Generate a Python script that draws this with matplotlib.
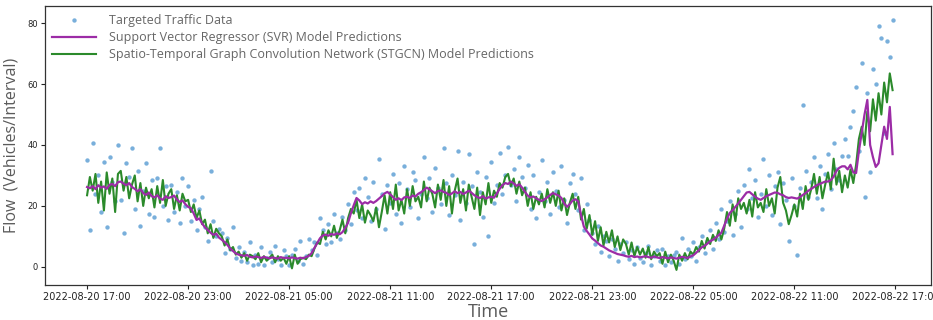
import matplotlib
matplotlib.use('Agg')
import matplotlib.pyplot as plt
import matplotlib.dates as mdates
import pandas as pd

# 10-minute intervals starting 2022-08-20 17:00
start_time = '2022-08-20 17:00'

svr = [
    26.2, 25.8, 26.5, 25.5, 26.8, 26.0,
    26.4, 25.6, 26.9, 27.2, 26.5, 27.8,
    28.0, 27.3, 26.8, 27.5, 26.2, 25.6,
    24.8, 25.5, 24.2, 23.6, 24.4, 23.2,
    22.8, 23.5, 22.4, 22.0, 23.2, 22.6,
    22.9, 23.4, 22.1, 21.3, 21.8, 20.6,
    19.7, 19.2, 17.5, 15.4, 15.9, 14.2,
    13.0, 12.1, 11.2, 10.5, 10.9, 9.6,
    8.9, 8.1, 7.2, 6.0, 5.2, 4.4,
    4.0, 3.8, 3.6, 3.9, 3.3, 3.1,
    3.4, 3.2, 2.9, 3.3, 3.0, 2.8,
    3.1, 2.9, 2.7, 3.2, 2.9, 3.0,
    2.8, 3.1, 2.9, 2.7, 3.0, 2.8,
    3.2, 3.6, 4.5, 6.2, 7.8, 9.4,
    10.3, 10.6, 10.2, 10.8, 10.5, 11.0,
    10.7, 11.4, 12.8, 14.5, 17.6, 20.2,
    22.6, 21.8, 20.6, 21.2, 20.8, 21.5,
    21.0, 21.6, 22.4, 23.2, 24.1, 24.6,
    23.8, 22.9, 22.0, 22.5, 21.9, 22.8,
    23.0, 22.6, 23.4, 23.1, 24.0, 24.5,
    25.2, 26.0, 25.4, 24.8, 24.2, 24.9,
    25.1, 24.6, 24.3, 23.6, 24.1, 24.8,
    24.2, 24.6, 23.9, 24.4, 25.0, 24.3,
    23.5, 22.9, 22.6, 23.2, 22.4, 22.8,
    23.0, 22.7, 24.1, 25.6, 26.8, 27.5,
    27.2, 28.0, 27.4, 26.6, 27.1, 26.0,
    24.6, 23.4, 22.8, 23.1, 22.5, 22.0,
    21.6, 22.2, 22.8, 23.6, 24.2, 23.8,
    23.4, 22.6, 20.8, 19.7, 20.6, 21.8,
    22.2, 21.5, 17.0, 13.2, 11.8, 10.6,
    9.3, 8.6, 7.8, 7.0, 6.6, 6.0,
    5.4, 5.0, 4.6, 4.2, 4.0, 3.8,
    3.5, 3.3, 3.6, 3.2, 3.4, 3.1,
    3.3, 3.5, 3.2, 3.0, 3.4, 3.1,
    2.9, 3.2, 3.0, 2.8, 3.1, 2.9,
    2.7, 3.0, 3.3, 3.1, 2.9, 3.4,
    3.8, 4.6, 5.5, 6.4, 6.9, 7.6,
    8.4, 8.9, 9.6, 10.4, 11.2, 13.5,
    15.8, 17.7, 18.6, 19.7, 20.8, 22.0,
    23.2, 24.4, 24.6, 23.8, 23.0, 22.4,
    22.0, 22.6, 23.2, 23.6, 24.0, 24.4,
    24.3, 23.8, 23.5, 22.9, 22.6, 22.8,
    22.6, 22.4, 22.9, 23.6, 24.2, 25.0,
    25.6, 26.2, 26.8, 27.2, 27.6, 28.0,
    28.0, 28.5, 29.6, 31.5, 32.5, 33.0,
    33.0, 32.0, 33.5, 31.0, 30.8, 38.0,
    44.0, 50.0, 54.8, 40.0, 36.0, 32.8,
    34.0, 40.0, 46.0, 42.0, 52.5, 37.0,
]

stgcn = [
    23.5, 29.5, 25.0, 30.5, 21.0, 28.0,
    18.5, 31.0, 24.0, 29.0, 18.0, 30.5,
    31.5, 25.0, 29.5, 22.5, 27.0, 30.0,
    21.5, 27.5, 20.0, 26.0, 22.5, 25.5,
    19.5, 26.5, 21.0, 28.5, 20.0, 24.0,
    25.5, 19.0, 23.5, 18.5, 24.0, 21.5,
    22.0, 18.0, 20.5, 16.0, 18.5, 14.0,
    15.5, 11.0, 14.0, 9.5, 12.5, 11.0,
    10.0, 7.0, 9.0, 5.5, 6.5, 4.0,
    5.0, 3.0, 4.5, 2.0, 4.0, 3.5,
    2.5, 4.5, 1.5, 3.5, 2.0, 3.0,
    4.0, 1.5, 3.5, 2.0, 3.0, 1.0,
    3.5, -0.5, 4.0, 1.0, 2.5, 3.0,
    2.5, 4.0, 3.5, 6.0, 8.0, 7.5,
    11.5, 9.0, 12.0, 10.0, 13.5, 9.5,
    12.0, 15.5, 11.0, 16.0, 19.0, 17.5,
    22.0, 16.0, 20.5, 14.5, 18.5, 17.0,
    15.0, 19.5, 13.0, 18.0, 23.5, 17.5,
    24.5, 19.0, 27.0, 18.5, 22.0, 17.5,
    25.5, 20.0, 26.5, 21.5, 23.0, 19.5,
    28.0, 21.5, 26.0, 24.0, 19.5, 27.0,
    22.0, 28.5, 20.0, 26.5, 17.5, 25.0,
    29.0, 21.0, 25.5, 18.5, 27.0, 23.0,
    19.0, 26.0, 17.0, 24.5, 20.5, 27.5,
    21.0, 25.0, 23.0, 27.5, 26.0, 29.5,
    30.5, 26.5, 29.0, 24.0, 28.0, 23.5,
    26.0, 20.0, 24.5, 19.0, 23.0, 20.5,
    24.0, 19.5, 25.5, 21.0, 24.5, 20.0,
    25.0, 18.5, 22.5, 17.0, 21.0, 24.0,
    19.0, 23.0, 15.5, 19.0, 12.5, 17.0,
    10.5, 15.0, 8.5, 13.0, 7.0, 11.5,
    8.0, 12.0, 6.5, 10.0, 5.5, 9.0,
    7.5, 4.0, 8.0, 3.5, 6.5, 4.0,
    6.0, 3.0, 6.5, 2.5, 5.0, 3.5,
    4.5, 1.0, 5.0, 1.5, 4.0, 2.0,
    -1.0, 4.0, 2.0, 4.5, 2.5, 5.0,
    4.0, 6.5, 5.0, 8.5, 6.0, 9.5,
    7.5, 10.5, 8.5, 12.0, 9.0, 12.5,
    18.0, 13.5, 20.5, 15.0, 22.5, 19.0,
    21.0, 17.5, 22.0, 16.5, 24.5, 19.5,
    21.0, 18.0, 25.5, 20.0, 22.5, 17.5,
    26.0, 29.5, 21.0, 18.5, 14.0, 17.0,
    20.5, 16.5, 24.0, 19.0, 26.5, 22.0,
    25.5, 30.5, 24.0, 29.5, 22.5, 27.0,
    31.0, 25.5, 35.5, 27.0, 31.5, 24.5,
    30.0, 26.0, 32.0, 27.5, 33.5, 42.0,
    46.0, 40.0, 51.0, 44.5, 55.0, 48.0,
    57.0, 50.0, 60.5, 54.0, 63.5, 58.0,
]

actual = [
    35.0, 12.0, 40.5, 24.0, 30.0, 18.0,
    34.5, 13.0, 36.0, 28.0, 21.5, 40.0,
    22.0, 11.0, 34.0, 29.5, 39.0, 19.0,
    31.5, 13.5, 25.0, 34.0, 17.5, 28.5,
    16.5, 29.0, 39.0, 20.0, 26.5, 15.5,
    27.0, 18.0, 24.5, 14.5, 29.0, 20.0,
    26.5, 15.0, 22.0, 12.0, 19.0, 23.0,
    13.0, 8.5, 31.5, 15.0, 10.0, 12.5,
    11.0, 4.5, 9.5, 6.0, 13.0, 3.0,
    6.5, 2.0, 5.0, 1.5, 8.0, 0.5,
    4.0, 1.0, 6.5, 0.5, 3.0, 5.0,
    1.5, 7.0, 2.5, 0.5, 5.5, 3.5,
    0.5, 4.0, 6.0, 2.0, 8.5, 1.0,
    3.5, 9.0, 5.5, 8.0, 4.0, 16.0,
    12.0, 7.5, 14.0, 8.0, 17.5, 11.0,
    9.0, 16.5, 12.0, 20.5, 14.0, 24.5,
    18.5, 26.0, 16.0, 29.0, 23.0, 15.0,
    28.0, 19.0, 35.5, 24.0, 12.5, 27.0,
    21.0, 30.5, 17.5, 27.5, 14.5, 33.0,
    25.5, 19.5, 31.0, 28.5, 16.0, 24.0,
    36.0, 22.5, 29.0, 18.0, 32.5, 26.0,
    20.5, 39.0, 27.5, 17.0, 30.0, 23.5,
    38.0, 15.5, 28.0, 21.0, 37.0, 26.5,
    7.5, 31.0, 24.5, 16.5, 29.5, 10.0,
    34.5, 21.0, 27.0, 37.5, 24.0, 30.0,
    39.5, 27.0, 32.0, 21.5, 36.0, 29.5,
    26.0, 33.5, 19.0, 30.0, 16.0, 24.5,
    35.0, 21.5, 28.0, 17.5, 31.0, 25.0,
    19.5, 33.0, 22.0, 14.5, 27.5, 30.5,
    24.0, 18.5, 29.0, 12.0, 20.5, 15.5,
    11.0, 7.5, 13.5, 5.0, 10.0, 8.5,
    3.5, 9.0, 6.0, 2.0, 7.5, 4.5,
    8.0, 2.5, 5.5, 1.0, 6.5, 3.0,
    1.5, 4.5, 7.0, 0.5, 3.5, 5.5,
    2.0, 6.0, 0.5, 3.5, 1.5, 4.0,
    5.0, 1.0, 9.5, 2.5, 6.0, 3.5,
    8.0, 2.0, 6.5, 10.0, 4.5, 8.5,
    12.0, 6.0, 14.5, 9.0, 19.0, 11.5,
    15.0, 21.5, 10.5, 17.5, 25.0, 13.0,
    27.0, 19.0, 32.0, 22.5, 28.5, 16.5,
    24.0, 35.5, 20.0, 30.0, 17.0, 26.5,
    31.0, 14.0, 27.5, 22.0, 8.5, 29.0,
    20.0, 4.0, 26.0, 53.0, 31.5, 23.0,
    28.0, 36.0, 22.5, 33.0, 19.0, 30.5,
    37.0, 25.5, 40.5, 32.0, 28.5, 36.5,
    42.0, 36.5, 46.0, 51.0, 59.0, 38.0,
    67.0, 23.0, 57.0, 31.0, 65.0, 60.0,
    79.0, 75.0, 44.0, 74.0, 69.0, 81.0,
]

y_ticks = [0, 20, 40, 60, 80]
labels = ['Targeted Traffic Data',
          'Support Vector Regressor (SVR) Model Predictions',
          'Spatio-Temporal Graph Convolution Network (STGCN) Model Predictions']

times = pd.date_range(start_time, periods=len(svr), freq='10min')

fig = plt.figure(figsize=(9.33, 3.2), dpi=100)
ax = fig.add_axes([0.0482, 0.109, 0.950, 0.872])

ax.scatter(times, actual, s=10, color='#6aa6d8', alpha=0.9, linewidths=0,
           label=labels[0], zorder=1)
ax.plot(times, svr, color='#9c2ca6', lw=1.6, label=labels[1], zorder=3)
ax.plot(times, stgcn, color='#2b8a2b', lw=1.5, label=labels[2], zorder=2)

ax.set_xlim(pd.Timestamp('2022-08-20 14:30'), pd.Timestamp('2022-08-22 19:08'))
ax.set_ylim(-6, 85.6)
ax.set_yticks(y_ticks)
ax.xaxis.set_major_locator(mdates.HourLocator(byhour=[5, 11, 17, 23]))
ax.xaxis.set_major_formatter(mdates.DateFormatter('%Y-%m-%d %H:%M'))
ax.tick_params(axis='x', labelsize=7, colors='#222222', length=3, width=0.8, pad=2)
ax.tick_params(axis='y', labelsize=6, colors='#222222', length=3, width=0.8, pad=2)
for s in ax.spines.values():
    s.set_color('#333333')
    s.set_linewidth(0.9)

ax.set_xlabel('Time', family='Open Sans', fontsize=13, color='#5a5a5a', labelpad=1)
ax.set_ylabel('Flow  (Vehicles/Interval)', family='Open Sans', fontsize=11.5,
              color='#5a5a5a', labelpad=6)

leg = ax.legend(loc='upper left', frameon=False, handlelength=3.5, scatterpoints=1,
                prop={'family': 'Open Sans', 'size': 9}, labelspacing=0.35,
                borderaxespad=0.2, handletextpad=1.0, markerscale=1.0)
for t in leg.get_texts():
    t.set_color('#666666')

fig.savefig('out.png', dpi=100)
